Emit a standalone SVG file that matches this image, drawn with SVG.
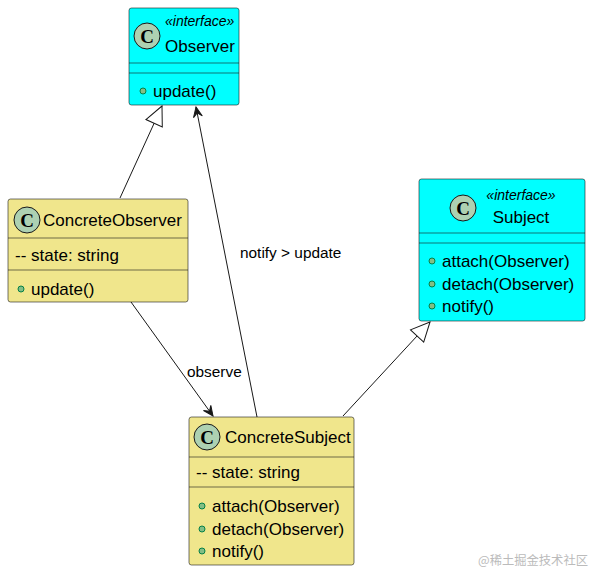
<svg xmlns="http://www.w3.org/2000/svg" width="593" height="574" viewBox="0 0 593 574">
<style>
.box{stroke:#181818;stroke-width:0.6}
.cyan{fill:#00FFFF}
.khaki{fill:#F0E68C}
.div{stroke:#181818;stroke-width:0.6}
.t{font-family:"Liberation Sans",Arial,sans-serif;font-size:17px;fill:#000}
.st{font-family:"Liberation Sans",Arial,sans-serif;font-size:14px;font-style:italic;fill:#000}
.lbl{font-family:"Liberation Sans",Arial,sans-serif;font-size:15.4px;fill:#000}
.circ{fill:#ADD1B2;stroke:#181818;stroke-width:1}
.cl{font-family:"Liberation Serif","Times New Roman",serif;font-size:19px;font-weight:bold;fill:#000}
.dot{fill:#84BE84;stroke:#038048;stroke-width:1}
.edge{stroke:#181818;stroke-width:1;fill:none}
.wm{font-family:"Noto Sans CJK SC",sans-serif;font-size:12.3px;fill:#BBBBBB}
</style>
<defs>
<marker id="tri" markerUnits="userSpaceOnUse" markerWidth="22" markerHeight="22" viewBox="-20 -10 22 20" refX="0" refY="0" orient="auto">
<polygon points="0,0 -19,-9 -19,9" fill="#FFFFFF" stroke="#181818" stroke-width="1"/>
</marker>
<marker id="arr" markerUnits="userSpaceOnUse" markerWidth="14" markerHeight="12" viewBox="-12 -6 14 12" refX="0" refY="0" orient="auto">
<polygon points="0,0 -10,-4.5 -6,0 -10,4.5" fill="#181818" stroke="#181818" stroke-width="1"/>
</marker>
</defs>
<g id="connectors">
<line class="edge" x1="120" y1="198" x2="162" y2="106" marker-end="url(#tri)"/>
<line class="edge" x1="257" y1="417" x2="196" y2="107" marker-end="url(#arr)"/>
<text class="lbl" x="240" y="258">notify &gt; update</text>
<line class="edge" x1="131" y1="302" x2="213" y2="416" marker-end="url(#arr)"/>
<text class="lbl" x="187" y="377">observe</text>
<line class="edge" x1="343" y1="416" x2="430" y2="322" marker-end="url(#tri)"/>
</g>
<g id="Observer">
<rect class="box cyan" x="129" y="8" width="110" height="97" rx="2.5"/>
<circle class="circ" cx="147" cy="36" r="13"/>
<text class="cl" x="147" y="43" text-anchor="middle">C</text>
<text class="st" x="165" y="26">«interface»</text>
<text class="t" x="165" y="52">Observer</text>
<line class="div" x1="129" y1="63" x2="239" y2="63"/>
<line class="div" x1="129" y1="73" x2="239" y2="73"/>
<circle class="dot" cx="143" cy="91" r="3"/>
<text class="t" x="153" y="97">update()</text>
</g>
<g id="ConcreteObserver">
<rect class="box khaki" x="8" y="199" width="180" height="103" rx="2.5"/>
<circle class="circ" cx="27" cy="220" r="13"/>
<text class="cl" x="27" y="227" text-anchor="middle">C</text>
<text class="t" x="43" y="226">ConcreteObserver</text>
<line class="div" x1="8" y1="238" x2="188" y2="238"/>
<text class="t" x="15" y="261">-- state: string</text>
<line class="div" x1="8" y1="270" x2="188" y2="270"/>
<circle class="dot" cx="21" cy="289" r="3"/>
<text class="t" x="31" y="295">update()</text>
</g>
<g id="Subject">
<rect class="box cyan" x="419" y="179" width="166" height="142" rx="2.5"/>
<circle class="circ" cx="463" cy="208" r="13"/>
<text class="cl" x="463" y="215" text-anchor="middle">C</text>
<text class="st" x="521" y="200" text-anchor="middle">«interface»</text>
<text class="t" x="521" y="223" text-anchor="middle">Subject</text>
<line class="div" x1="419" y1="233" x2="585" y2="233"/>
<line class="div" x1="419" y1="243" x2="585" y2="243"/>
<circle class="dot" cx="432" cy="261" r="3"/>
<text class="t" x="442" y="267">attach(Observer)</text>
<circle class="dot" cx="432" cy="284" r="3"/>
<text class="t" x="442" y="290">detach(Observer)</text>
<circle class="dot" cx="432" cy="306" r="3"/>
<text class="t" x="442" y="312">notify()</text>
</g>
<g id="ConcreteSubject">
<rect class="box khaki" x="189" y="417" width="165" height="148" rx="2.5"/>
<circle class="circ" cx="207" cy="437" r="13"/>
<text class="cl" x="207" y="444" text-anchor="middle">C</text>
<text class="t" x="225" y="443">ConcreteSubject</text>
<line class="div" x1="189" y1="457" x2="354" y2="457"/>
<text class="t" x="196" y="478">-- state: string</text>
<line class="div" x1="189" y1="487" x2="354" y2="487"/>
<circle class="dot" cx="202" cy="506" r="3"/>
<text class="t" x="212" y="512">attach(Observer)</text>
<circle class="dot" cx="202" cy="529" r="3"/>
<text class="t" x="212" y="535">detach(Observer)</text>
<circle class="dot" cx="202" cy="551" r="3"/>
<text class="t" x="212" y="557">notify()</text>
</g>
<text class="wm" x="478" y="565">@稀土掘金技术社区</text>
</svg>
